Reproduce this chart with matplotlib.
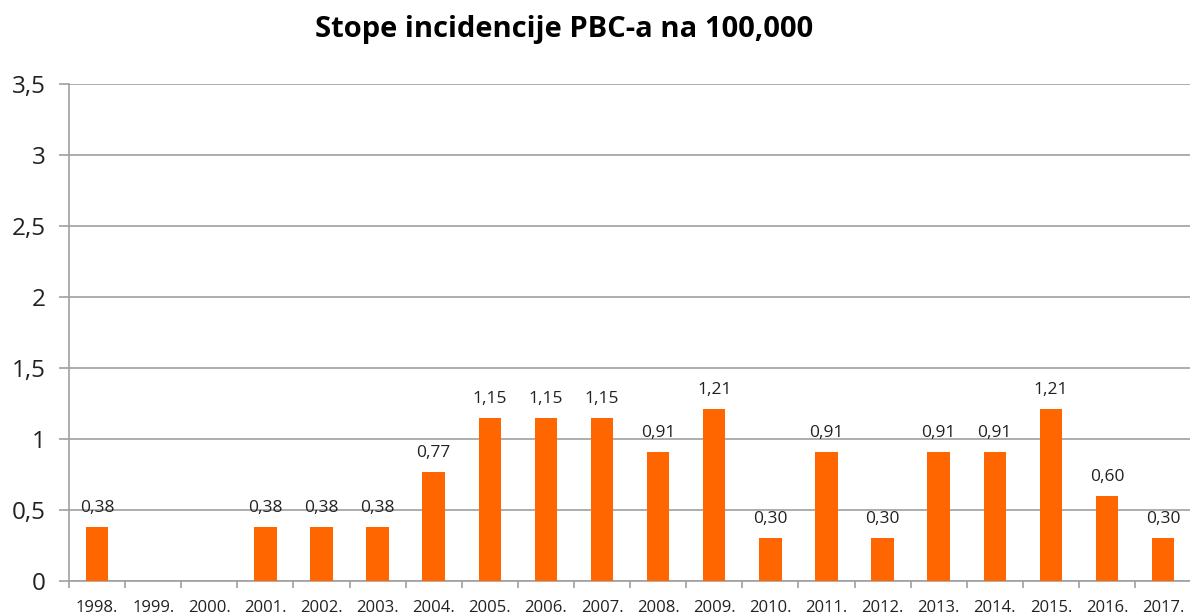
import matplotlib
matplotlib.use("Agg")
import matplotlib.pyplot as plt
import numpy as np
from matplotlib.ticker import FixedLocator

years = ["1998.", "1999.", "2000.", "2001.", "2002.", "2003.", "2004.", "2005.", "2006.", "2007.",
         "2008.", "2009.", "2010.", "2011.", "2012.", "2013.", "2014.", "2015.", "2016.", "2017."]
values = [0.38, 0, 0, 0.38, 0.38, 0.38, 0.77, 1.15, 1.15, 1.15,
          0.91, 1.21, 0.30, 0.91, 0.30, 0.91, 0.91, 1.21, 0.60, 0.30]
yticks = [0, 0.5, 1, 1.5, 2, 2.5, 3, 3.5]
ytick_labels = ["0", "0,5", "1", "1,5", "2", "2,5", "3", "3,5"]
title = "Stope incidencije PBC-a na 100,000"

plt.rcParams['font.family'] = ['Open Sans', 'DejaVu Sans']

fig = plt.figure(figsize=(11.9, 6.15), dpi=100)
ax = fig.add_axes([69/1190, 1 - 581/615, 1 - 69/1190 + 0.001, (581 - 84)/615])

x = np.arange(len(years))
bars = ax.bar(x, values, width=0.40, color="#FF6600", zorder=3)

for xi, v in zip(x, values):
    if v > 0:
        ax.annotate(f"{v:.2f}".replace(".", ","), (xi, v), xytext=(0, 8),
                    textcoords="offset points", ha="center", va="bottom",
                    fontsize=12.5, color="#222222")

ax.set_xlim(-0.5, len(years) - 0.5)
ax.set_ylim(0, 3.5)
ax.set_yticks(yticks)
ax.set_yticklabels(ytick_labels, fontsize=17.5, color="#222222")
ax.yaxis.grid(True, color="#a0a0a0", linewidth=1.2, zorder=0)
ax.tick_params(axis="y", length=7, width=1.2, color="#a0a0a0", pad=10)

ax.set_xticks(x)
ax.set_xticklabels(years, fontsize=12, color="#222222")
ax.tick_params(axis="x", which="major", length=0, pad=14)
ax.xaxis.set_minor_locator(FixedLocator(np.arange(-0.5, len(years) + 0.5, 1)))
ax.tick_params(axis="x", which="minor", length=5, width=1.2, color="#a0a0a0")

for s in ["top", "right"]:
    ax.spines[s].set_visible(False)
for s in ["left", "bottom"]:
    ax.spines[s].set_color("#a0a0a0")
    ax.spines[s].set_linewidth(1.2)

fig.text(564/1190, 1 - 30/615, title, ha="center", va="center",
         fontsize=21, fontweight="bold", color="black")

fig.savefig("out.png", dpi=100)
